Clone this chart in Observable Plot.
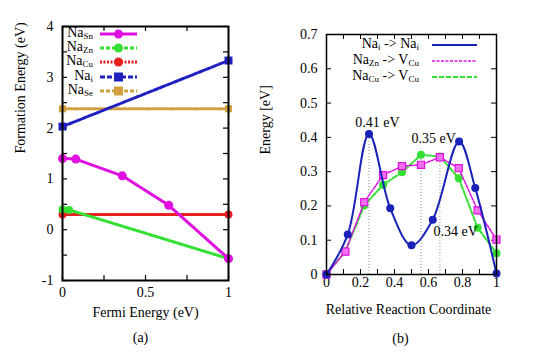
<!DOCTYPE html>
<html><head><meta charset="utf-8">
<script src="https://cdn.jsdelivr.net/npm/d3@7"></script>
<script src="https://cdn.jsdelivr.net/npm/@observablehq/plot@0.6"></script>
<style>
body{margin:0;background:#fff;font-family:"Liberation Serif","Times New Roman",Times,"DejaVu Serif",serif;}
#wrap{position:relative;width:534px;height:357px;overflow:hidden;}
.panel{position:absolute;top:0;}
svg text, svg tspan{font-family:"Liberation Serif","Times New Roman",Times,"DejaVu Serif",serif !important;}
.lt{position:absolute;font-size:14px;line-height:12px;height:12px;text-align:right;white-space:nowrap;color:#000;}
.lt sub{font-size:9px;vertical-align:-2px;line-height:0;}
.ls{position:absolute;}
</style></head><body><div id="wrap"></div>
<script>
// ---------- Panel (a): formation energy vs Fermi energy ----------
const fermiXTicks = [0, 0.25, 0.5, 0.75, 1];
const fermiXLabels = [0, 0.5, 1];
const formYTicks = [-1, -0.5, 0, 0.5, 1, 1.5, 2, 2.5, 3, 3.5, 4];
const formYLabels = [-1, 0, 1, 2, 3, 4];

const naSnX = [0, 0.08, 0.36, 0.64, 1];
const naSnY = [1.40, 1.39, 1.06, 0.48, -0.57];
const naZnX = [0, 0.04, 1];
const naZnY = [0.40, 0.39, -0.57];
const naCuX = [0, 1];
const naCuY = [0.30, 0.30];
const naiX = [0, 1];
const naiY = [2.03, 3.33];
const naSeX = [0, 1];
const naSeY = [2.38, 2.38];

// ---------- Panel (b): NEB barriers ----------
const rxnXTicks = [0, 0.1, 0.2, 0.3, 0.4, 0.5, 0.6, 0.7, 0.8, 0.9, 1];
const rxnXLabels = [0, 0.2, 0.4, 0.6, 0.8, 1];
const enYTicks = [0, 0.1, 0.2, 0.3, 0.4, 0.5, 0.6, 0.7];

const hopNaiX = [0, 0.125, 0.25, 0.375, 0.5, 0.625, 0.78, 0.875, 1];
const hopNaiY = [0, 0.117, 0.41, 0.193, 0.085, 0.16, 0.388, 0.252, 0.003];
const hopZnX = [0, 0.111, 0.222, 0.333, 0.444, 0.556, 0.667, 0.778, 0.889, 1];
const hopZnY = [0, 0.067, 0.211, 0.29, 0.316, 0.32, 0.342, 0.31, 0.187, 0.102];
const hopCuX = [0, 0.111, 0.222, 0.333, 0.444, 0.556, 0.667, 0.778, 0.889, 1];
const hopCuY = [0, 0.068, 0.201, 0.262, 0.298, 0.349, 0.344, 0.281, 0.136, 0.062];

const barrierX = [0.25, 0.556, 0.667];
const barrierY = [0.41, 0.349, 0.344];
const barrierText = ["0.41 eV", "0.35 eV", "0.34 eV"];
const barrierLabelX = [0.30, 0.63, 0.76];
const barrierLabelY = [0.443, 0.397, 0.125];

const C = {sn:"#e010e0", zn:"#33e033", cu:"#e82020", nai:"#2020c0", se:"#d0a040", blue:"#1a22b8"};

const pts = (xs, ys) => xs.map((x, i) => ({x, y: ys[i]}));
const FF = "Liberation Serif, Times New Roman, Times, DejaVu Serif, serif";
const font = {fontFamily:FF, fontSize:"14px", color:"#000", background:"transparent", overflow:"visible"};
const fmt = d => String(d);

// ---- Panel (a) ----
const A = {w:267, h:357, ml:62, mr:39, mt:26, mb:77};
const afw = A.w - A.ml - A.mr, afh = A.h - A.mt - A.mb;
const plotA = Plot.plot({
  width:A.w, height:A.h, marginLeft:A.ml, marginRight:A.mr, marginTop:A.mt, marginBottom:A.mb,
  style: font,
  x:{domain:[0,1]}, y:{domain:[-1,4]},
  marks:[
    Plot.axisX(fermiXLabels, {tickSize:0, tickPadding:7, label:null, fontSize:14, fontFamily:FF, tickFormat:fmt}),
    Plot.axisY(formYLabels, {tickSize:0, tickPadding:9, label:null, fontSize:14, fontFamily:FF, tickFormat:fmt}),
    Plot.tickX(fermiXTicks, {x:d=>d, insetTop:afh-5, strokeWidth:1.2}),
    Plot.tickX(fermiXTicks, {x:d=>d, insetBottom:afh-5, strokeWidth:1.2}),
    Plot.tickY(formYTicks, {y:d=>d, insetRight:afw-5, strokeWidth:1.2}),
    Plot.tickY(formYTicks, {y:d=>d, insetLeft:afw-5, strokeWidth:1.2}),
    Plot.line(pts(naSeX, naSeY), {x:"x", y:"y", stroke:C.se, strokeWidth:3, strokeDasharray:"4,2"}),
    Plot.dot(pts(naSeX, naSeY), {x:"x", y:"y", fill:C.se, symbol:"square", r:4}),
    Plot.line(pts(naiX, naiY), {x:"x", y:"y", stroke:C.nai, strokeWidth:3, strokeDasharray:"5,2"}),
    Plot.dot(pts(naiX, naiY), {x:"x", y:"y", fill:C.nai, symbol:"square", r:4.5}),
    Plot.line(pts(naCuX, naCuY), {x:"x", y:"y", stroke:C.cu, strokeWidth:3, strokeDasharray:"2,1.5"}),
    Plot.dot(pts(naCuX, naCuY), {x:"x", y:"y", fill:C.cu, r:4}),
    Plot.line(pts(naZnX, naZnY), {x:"x", y:"y", stroke:C.zn, strokeWidth:3, strokeDasharray:"4,2"}),
    Plot.dot(pts(naZnX, naZnY), {x:"x", y:"y", fill:C.zn, r:4}),
    Plot.line(pts(naSnX, naSnY), {x:"x", y:"y", stroke:C.sn, strokeWidth:3}),
    Plot.dot(pts(naSnX, naSnY), {x:"x", y:"y", fill:C.sn, r:4.5}),
    Plot.frame({stroke:"#000", strokeWidth:2}),
    Plot.text(["Fermi Energy (eV)"], {frameAnchor:"bottom", dy:36, fontSize:14, fontFamily:FF}),
    Plot.text(["(a)"], {frameAnchor:"bottom", dy:61, dx:-5, fontSize:14, fontFamily:FF}),
    Plot.text(["Formation Energy (eV)"], {frameAnchor:"left", dx:-42, rotate:-90, fontSize:14, fontFamily:FF})
  ]
});

// ---- Panel (b) ----
const B = {left:267, w:267, h:357, ml:59, mr:38, mt:34, mb:83};
const bfw = B.w - B.ml - B.mr, bfh = B.h - B.mt - B.mb;
const plotB = Plot.plot({
  width:B.w, height:B.h, marginLeft:B.ml, marginRight:B.mr, marginTop:B.mt, marginBottom:B.mb,
  style: font,
  x:{domain:[0,1]}, y:{domain:[0,0.7]},
  marks:[
    Plot.axisX(rxnXLabels, {tickSize:0, tickPadding:3, label:null, fontSize:14, fontFamily:FF, tickFormat:fmt}),
    Plot.axisY(enYTicks, {tickSize:0, tickPadding:9, label:null, fontSize:14, fontFamily:FF, tickFormat:d=> d===0 ? "0" : d.toFixed(1)}),
    Plot.tickX(rxnXTicks, {x:d=>d, insetTop:bfh-5}),
    Plot.tickX(rxnXTicks, {x:d=>d, insetBottom:bfh-5}),
    Plot.tickY(enYTicks, {y:d=>d, insetRight:bfw-5}),
    Plot.tickY(enYTicks, {y:d=>d, insetLeft:bfw-5}),
    Plot.ruleX(pts(barrierX, barrierY), {x:"x", y1:0, y2:"y", stroke:"#777", strokeWidth:0.8, strokeDasharray:"1,2"}),
    Plot.line(pts(hopCuX, hopCuY), {x:"x", y:"y", stroke:C.zn, strokeWidth:2, strokeDasharray:"5,2"}),
    Plot.dot(pts(hopCuX, hopCuY), {x:"x", y:"y", fill:C.zn, r:4}),
    Plot.line(pts(hopZnX, hopZnY), {x:"x", y:"y", stroke:C.sn, strokeWidth:1.5, strokeDasharray:"3,1.5"}),
    Plot.dot(pts(hopZnX, hopZnY), {x:"x", y:"y", fill:"#f070f0", stroke:C.sn, strokeWidth:1.2, symbol:"square", r:4}),
    Plot.line(pts(hopNaiX, hopNaiY), {x:"x", y:"y", stroke:C.blue, strokeWidth:2, curve:"catmull-rom"}),
    Plot.dot(pts(hopNaiX, hopNaiY), {x:"x", y:"y", fill:C.blue, r:4}),
    Plot.text(barrierText.map((t,i)=>({t, x:barrierLabelX[i], y:barrierLabelY[i]})), {x:"x", y:"y", text:"t", fontSize:14, fontFamily:FF, fill:"#000"}),
    Plot.frame({stroke:"#000", strokeWidth:1.5}),
    Plot.text(["Relative Reaction Coordinate"], {frameAnchor:"bottom", dy:39, dx:-3, fontSize:14, fontFamily:FF}),
    Plot.text(["(b)"], {frameAnchor:"bottom", dy:68, dx:-11, fontSize:14, fontFamily:FF}),
    Plot.text(["Energy [eV]"], {frameAnchor:"left", dx:-61, rotate:-90, fontSize:14, fontFamily:FF})
  ]
});

const wrap = document.getElementById("wrap");
plotA.classList.add("panel"); plotA.style.left = "0px";
plotB.classList.add("panel"); plotB.style.left = B.left + "px";
wrap.appendChild(plotA); wrap.appendChild(plotB);

// ---- Legends (HTML, with subscripts) ----
function legendLine(x1, x2, yc, color, width, dash, symbol) {
  const w = x2 - x1;
  const svg = d3.create("svg").attr("class","ls").attr("width", w).attr("height", 12)
    .style("left", x1 + "px").style("top", (yc - 6) + "px");
  svg.append("line").attr("x1",0).attr("x2",w).attr("y1",6).attr("y2",6)
    .attr("stroke",color).attr("stroke-width",width).attr("stroke-dasharray", dash || null);
  if (symbol === "circle") svg.append("circle").attr("cx", w/2).attr("cy",6).attr("r",4.5).attr("fill",color);
  if (symbol === "square") svg.append("rect").attr("x", w/2-4.5).attr("y",1.5).attr("width",9).attr("height",9).attr("fill",color);
  wrap.appendChild(svg.node());
}
function legendText(html, rightX, yc) {
  const d = document.createElement("div");
  d.className = "lt"; d.innerHTML = html;
  d.style.right = (534 - rightX) + "px"; d.style.top = (yc - 7) + "px";
  wrap.appendChild(d);
}
const legA = [
  ["Na<sub>Sn</sub>", C.sn, "", "circle"],
  ["Na<sub>Zn</sub>", C.zn, "4,2", "circle"],
  ["Na<sub>Cu</sub>", C.cu, "2,1.5", "circle"],
  ["Na<sub>i</sub>", C.nai, "5,2", "square"],
  ["Na<sub>Se</sub>", C.se, "4,2", "square"]
];
const legARows = [34, 48, 62, 77, 91];
legA.forEach((r, i) => { legendText(r[0], 93, legARows[i]); legendLine(100, 137, legARows[i], r[1], 3, r[2], r[3]); });

const legB = [
  ["Na<sub>i</sub> -&gt; Na<sub>i</sub>", C.blue, 2, ""],
  ["Na<sub>Zn</sub> -&gt; V<sub>Cu</sub>", C.sn, 1.5, "3,1.5"],
  ["Na<sub>Cu</sub> -&gt; V<sub>Cu</sub>", C.zn, 2, "5,2"]
];
const legBRows = [45, 61, 77];
legB.forEach((r, i) => { legendText(r[0], 419, legBRows[i]); legendLine(432, 477, legBRows[i], r[1], r[2], r[3], null); });
</script>
</body></html>
